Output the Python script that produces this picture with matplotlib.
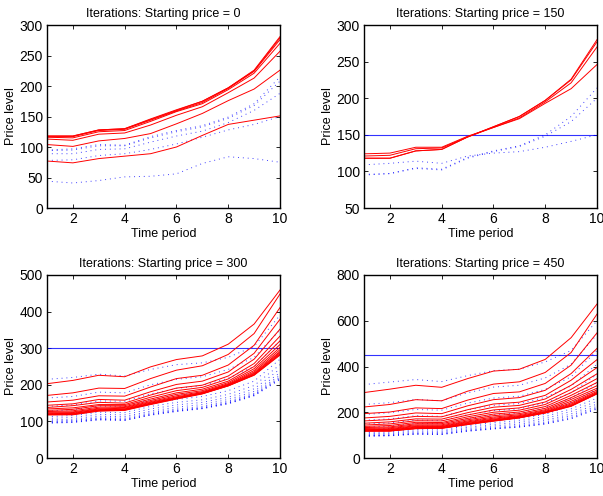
import matplotlib
matplotlib.use("Agg")
import matplotlib.pyplot as plt

plt.rcParams["font.family"] = ["Liberation Sans", "DejaVu Sans"]

t = [1, 2, 3, 4, 5, 6, 7, 8, 9, 10]

# starting price 0
start0 = 0
red0 = [
    [77, 74, 81, 85, 89, 100, 119, 137, 144, 151],
    [104, 101, 110, 114, 122, 138, 155, 176, 195, 226],
    [113, 111, 121, 123, 136, 152, 166, 189, 213, 257],
    [116, 115, 125, 127, 142, 158, 171, 194, 221, 270],
    [117, 117, 127, 129, 144, 159, 173, 196, 224, 276],
    [118, 118, 128, 130, 145, 160, 175, 197, 225, 279],
    [118, 118, 128, 130, 146, 161, 175, 197, 226, 281],
]
blue0 = [
    [44, 41, 45, 51, 52, 56, 73, 84, 81, 75],
    [78, 79, 86, 89, 96, 105, 116, 128, 137, 150],
    [89, 89, 96, 97, 108, 118, 126, 140, 160, 188],
    [94, 95, 102, 102, 115, 125, 133, 147, 168, 208],
    [95, 97, 104, 103, 117, 127, 135, 149, 171, 215],
]

# starting price 150
start150 = 150
red150 = [
    [124, 125, 133, 133, 148, 160, 172, 193, 213, 246],
    [121, 122, 131, 132, 147, 160, 173, 195, 221, 270],
    [118, 118, 128, 130, 147, 161, 175, 197, 225, 277],
    [118, 118, 128, 130, 147, 161, 175, 197, 226, 280],
]
blue150 = [
    [109, 111, 114, 111, 121, 125, 127, 133, 141, 150],
    [96, 97, 104, 102, 118, 127, 134, 148, 168, 200],
    [95, 97, 105, 103, 119, 128, 135, 150, 175, 214],
]

# starting price 300
start300 = 300
red300 = [
    [203, 212, 226, 222, 249, 269, 279, 311, 366, 459],
    [171, 178, 191, 190, 217, 240, 252, 283, 340, 448],
    [153, 158, 170, 169, 194, 217, 226, 254, 308, 411],
    [144, 148, 160, 158, 181, 201, 210, 235, 286, 379],
    [138, 143, 152, 150, 172, 191, 199, 224, 270, 352],
    [134, 137, 146, 146, 166, 184, 193, 216, 258, 333],
    [130, 133, 143, 143, 161, 178, 188, 210, 250, 320],
    [127, 129, 139, 140, 157, 174, 184, 206, 244, 310],
    [125, 126, 136, 138, 154, 170, 181, 203, 239, 302],
    [123, 124, 134, 136, 152, 167, 179, 201, 235, 296],
    [121, 122, 132, 134, 150, 165, 178, 200, 232, 291],
    [120, 121, 131, 133, 149, 164, 177, 199, 230, 288],
    [119, 120, 130, 132, 148, 163, 176, 198, 228, 285],
    [118, 119, 129, 131, 147, 162, 176, 197, 227, 283],
    [118, 118, 128, 130, 146, 161, 175, 197, 226, 281],
]
blue300 = [
    [215, 220, 229, 224, 242, 255, 260, 275, 305, 390],
    [164, 168, 180, 178, 200, 215, 222, 242, 275, 350],
    [141, 145, 156, 155, 175, 190, 198, 218, 250, 320],
    [128, 132, 142, 141, 160, 172, 180, 198, 228, 290],
    [120, 123, 132, 131, 149, 160, 168, 184, 210, 270],
    [113, 116, 125, 124, 141, 152, 159, 174, 198, 255],
    [108, 111, 119, 118, 134, 145, 152, 166, 189, 243],
    [104, 106, 114, 113, 128, 139, 146, 160, 182, 233],
    [101, 103, 110, 109, 124, 134, 141, 155, 177, 226],
    [99, 101, 108, 106, 121, 131, 138, 152, 174, 221],
    [97, 99, 106, 104, 119, 129, 136, 150, 172, 218],
    [96, 98, 105, 103, 118, 128, 135, 149, 171, 216],
    [95, 97, 104, 103, 117, 127, 135, 148, 170, 214],
]

# starting price 450
start450 = 450
red450 = [
    [286, 301, 318, 309, 347, 380, 388, 431, 526, 673],
    [223, 234, 255, 250, 292, 323, 333, 374, 461, 629],
    [194, 201, 219, 216, 253, 282, 289, 326, 406, 547],
    [175, 182, 197, 194, 228, 255, 264, 296, 369, 479],
    [162, 168, 182, 180, 211, 236, 244, 274, 340, 430],
    [152, 158, 171, 170, 198, 222, 230, 258, 318, 395],
    [144, 149, 163, 162, 188, 210, 219, 245, 300, 368],
    [138, 142, 156, 155, 180, 200, 209, 234, 286, 347],
    [133, 136, 150, 150, 173, 192, 201, 225, 274, 330],
    [129, 132, 145, 145, 167, 185, 194, 217, 264, 316],
    [126, 128, 141, 141, 162, 179, 189, 211, 256, 305],
    [124, 125, 138, 138, 158, 174, 185, 207, 248, 297],
    [122, 123, 135, 136, 155, 170, 182, 203, 241, 291],
    [120, 121, 133, 134, 152, 167, 180, 201, 236, 287],
    [119, 120, 131, 132, 150, 165, 178, 199, 232, 284],
    [118, 119, 130, 131, 148, 163, 177, 198, 229, 282],
    [118, 118, 129, 130, 147, 162, 176, 197, 227, 281],
    [118, 118, 128, 130, 146, 161, 175, 197, 226, 280],
]
blue450 = [
    [321, 332, 343, 334, 360, 382, 388, 420, 470, 600],
    [234, 242, 256, 250, 285, 310, 318, 350, 410, 540],
    [190, 198, 212, 209, 240, 262, 270, 300, 355, 470],
    [165, 171, 185, 182, 210, 230, 238, 265, 315, 410],
    [148, 153, 166, 164, 189, 207, 215, 240, 285, 365],
    [135, 139, 151, 150, 172, 189, 197, 220, 262, 330],
    [125, 129, 140, 139, 159, 175, 183, 204, 243, 302],
    [117, 120, 131, 130, 149, 164, 172, 191, 228, 280],
    [111, 114, 124, 123, 141, 155, 163, 181, 215, 262],
    [106, 109, 118, 117, 134, 147, 155, 172, 204, 248],
    [102, 105, 113, 112, 128, 140, 148, 164, 193, 236],
    [99, 101, 109, 108, 123, 134, 142, 157, 185, 226],
    [97, 99, 106, 105, 120, 130, 138, 152, 178, 220],
    [96, 98, 105, 103, 118, 128, 136, 150, 174, 216],
    [95, 97, 104, 103, 117, 127, 135, 148, 171, 214],
]

panels = [
    (start0, red0, blue0, (0, 300), range(0, 301, 50)),
    (start150, red150, blue150, (50, 300), range(50, 301, 50)),
    (start300, red300, blue300, (0, 500), range(0, 501, 100)),
    (start450, red450, blue450, (0, 800), range(0, 801, 200)),
]

W, H = 603, 496
fig = plt.figure(figsize=(W / 100, H / 100), dpi=100)
# axes boxes in pixels: left, top, right, bottom
boxes = [(47, 25, 280, 208), (364, 25, 597, 208),
         (47, 275, 280, 458), (364, 275, 597, 458)]

for (start, reds, blues, ylim, yt), (l, tp, r, b) in zip(panels, boxes):
    ax = fig.add_axes([l / W, 1 - b / H, (r - l) / W, (b - tp) / H])
    ax.plot(t, [start] * len(t), color="blue", lw=0.8, alpha=0.8)
    for ys in blues:
        ax.plot(t, ys, color="blue", lw=0.7, alpha=0.75,
                linestyle=(0, (1, 4)))
    for ys in reds:
        ax.plot(t, ys, color="red", lw=0.7)
    ax.set_xlim(1, 10)
    ax.set_ylim(*ylim)
    ax.set_xticks([2, 4, 6, 8, 10])
    ax.set_yticks(list(yt))
    ax.tick_params(direction="in", top=True, right=True, labelsize=10,
                   length=3, width=0.6, pad=3)
    for s in ax.spines.values():
        s.set_linewidth(1.0)
    ax.set_title("Iterations: Starting price = %d" % start, fontsize=9, pad=6)
    ax.set_xlabel("Time period", fontsize=9, labelpad=1)
    ax.set_ylabel("Price level", fontsize=9, labelpad=2)

fig.savefig("out.png", dpi=100)
